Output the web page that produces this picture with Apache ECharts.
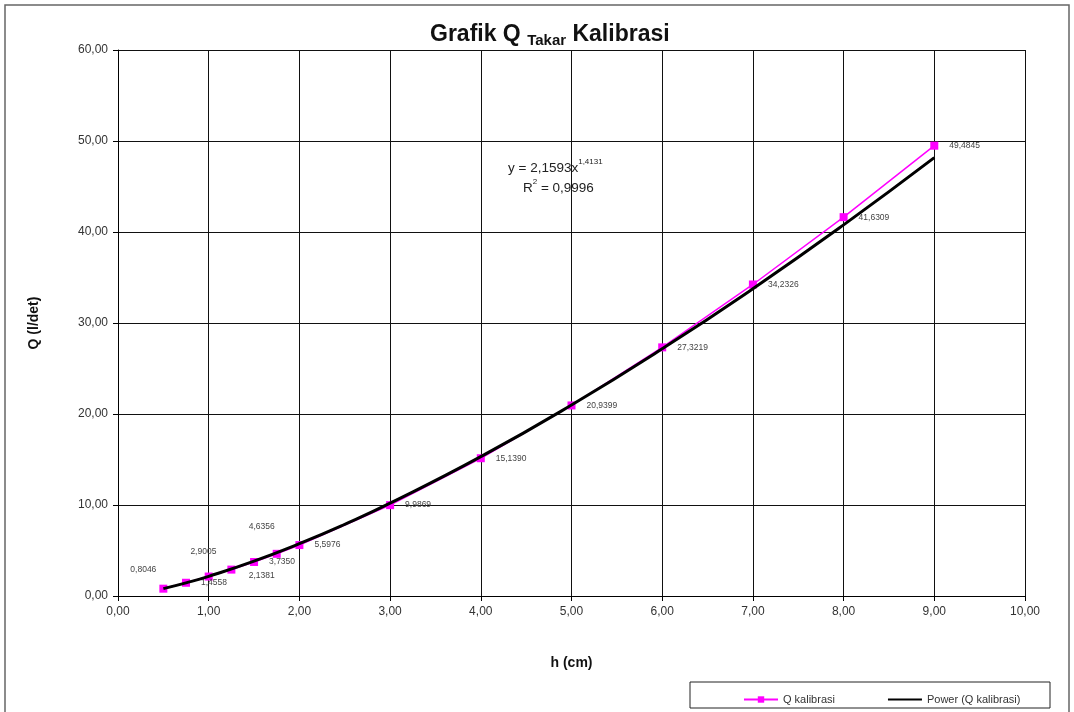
<!DOCTYPE html>
<html>
<head>
<meta charset="utf-8">
<script src="https://cdn.jsdelivr.net/npm/echarts@6/dist/echarts.min.js"></script>
<style>
html,body{margin:0;padding:0;background:#fff;}
#chart{width:1074px;height:712px;}
</style>
</head>
<body>
<div id="chart"></div>
<script>
// ---- data ----
const hValues = [0.5, 0.75, 1.0, 1.25, 1.5, 1.75, 2.0, 3, 4, 5, 6, 7, 8, 9];
const qValues = [0.8046, 1.4558, 2.1381, 2.9005, 3.7350, 4.6356, 5.5976, 9.9869, 15.1390, 20.9399, 27.3219, 34.2326, 41.6309, 49.4845];
// power trendline
const trendH = [0.5, 0.75, 1, 1.5, 2, 2.5, 3, 4, 5, 6, 7, 8, 9];
const trendQ = [0.81, 1.44, 2.16, 3.83, 5.75, 7.88, 10.20, 15.31, 20.99, 27.16, 33.77, 40.78, 48.17];
const xTickLabels = ['0,00','1,00','2,00','3,00','4,00','5,00','6,00','7,00','8,00','9,00','10,00'];
const yTickLabels = ['0,00','10,00','20,00','30,00','40,00','50,00','60,00'];
const seriesNames = ['Q kalibrasi', 'Power (Q kalibrasi)'];

// label offsets (layout only) for labels that were moved by hand
const labelOffsets = {0: [-48, -19], 2: [25, -1], 3: [-56, -18], 5: [-43, -27]};

const fmt = v => v.toFixed(4).replace('.', ',');

const qData = hValues.map((h, i) => {
  const item = {value: [h, qValues[i]]};
  if (labelOffsets[i]) item.label = {offset: labelOffsets[i]};
  return item;
});
const trendData = trendH.map((h, i) => [h, trendQ[i]]);

const chart = echarts.init(document.getElementById('chart'));
const axisFont = {fontFamily: 'Liberation Sans, Arial, sans-serif', fontSize: 12, color: '#333'};

chart.setOption({
  animation: false,
  backgroundColor: '#fff',
  title: {
    left: 425, top: 17,
    text: '{a|Grafik Q }{b|Takar}{a| Kalibrasi}',
    textStyle: {
      rich: {
        a: {fontFamily: 'Liberation Sans, Arial', fontSize: 23, fontWeight: 'bold', color: '#111', lineHeight: 26},
        b: {fontFamily: 'Liberation Sans, Arial', fontSize: 15, fontWeight: 'bold', color: '#111', lineHeight: 11, verticalAlign: 'bottom'}
      }
    }
  },
  grid: {left: 118, right: 49, top: 50, bottom: 116},
  xAxis: {
    type: 'value', min: 0, max: 10, interval: 1,
    name: 'h (cm)', nameLocation: 'middle', nameGap: 60,
    nameTextStyle: {fontFamily: 'Liberation Sans, Arial', fontSize: 14, fontWeight: 'bold', color: '#111'},
    axisLine: {show: true, onZero: false, lineStyle: {color: '#000', width: 1}},
    axisTick: {show: true, inside: false, length: 5, lineStyle: {color: '#000'}},
    axisLabel: Object.assign({margin: 10, formatter: v => xTickLabels[Math.round(v)]}, axisFont),
    splitLine: {show: true, lineStyle: {color: '#111', width: 1}}
  },
  yAxis: {
    type: 'value', min: 0, max: 60, interval: 10,
    name: 'Q (l/det)', nameLocation: 'middle', nameGap: 77, nameRotate: 90,
    nameTextStyle: {fontFamily: 'Liberation Sans, Arial', fontSize: 14, fontWeight: 'bold', color: '#111'},
    axisLine: {show: true, lineStyle: {color: '#000', width: 1}},
    axisTick: {show: true, inside: false, length: 5, lineStyle: {color: '#000'}},
    axisLabel: Object.assign({margin: 10, formatter: v => yTickLabels[Math.round(v / 10)]}, axisFont),
    splitLine: {show: true, lineStyle: {color: '#111', width: 1}}
  },
  legend: {
    left: 738, top: 689,
    itemWidth: 34, itemHeight: 8, itemGap: 52,
    textStyle: {fontFamily: 'Liberation Sans, Arial', fontSize: 11, color: '#333'},
    data: [
      {name: seriesNames[0]},
      {name: seriesNames[1], itemStyle: {opacity: 0}}
    ]
  },
  series: [
    {
      name: seriesNames[0], type: 'line', data: qData,
      symbol: 'rect', symbolSize: 8, z: 2,
      itemStyle: {color: '#FF00FF'},
      lineStyle: {color: '#FF00FF', width: 1.5},
      label: {
        show: true, position: 'right', distance: 11,
        fontFamily: 'Liberation Sans, Arial', fontSize: 8.5, color: '#444',
        formatter: p => fmt(p.value[1])
      }
    },
    {
      name: seriesNames[1], type: 'line', data: trendData,
      smooth: true, symbol: 'none', showSymbol: false, z: 3,
      itemStyle: {color: '#000'},
      lineStyle: {color: '#000', width: 3}
    }
  ],
  graphic: [
    {type: 'rect', position: [5, 5], shape: {x: 0, y: 0, width: 1064, height: 720}, style: {fill: 'none', stroke: '#666', lineWidth: 1.5}, silent: true, z: -1},
    {type: 'rect', position: [690, 682], shape: {x: 0, y: 0, width: 360, height: 26}, style: {fill: 'none', stroke: '#222', lineWidth: 1}, silent: true},
    {
      type: 'text', left: 508, top: 158, z: 10,
      style: {
        text: '{m|y = 2,1593x}{s|1,4131}\n{r|    R}{s2|2}{m| = 0,9996}',
        rich: {
          m: {fontFamily: 'Liberation Sans, Arial', fontSize: 13.5, fill: '#222', lineHeight: 20},
          r: {fontFamily: 'Liberation Sans, Arial', fontSize: 13.5, fill: '#222', lineHeight: 20},
          s: {fontFamily: 'Liberation Sans, Arial', fontSize: 8, fill: '#222', verticalAlign: 'top', lineHeight: 14},
          s2: {fontFamily: 'Liberation Sans, Arial', fontSize: 8, fill: '#222', verticalAlign: 'top', lineHeight: 14}
        }
      }
    }
  ]
});
</script>
</body>
</html>
